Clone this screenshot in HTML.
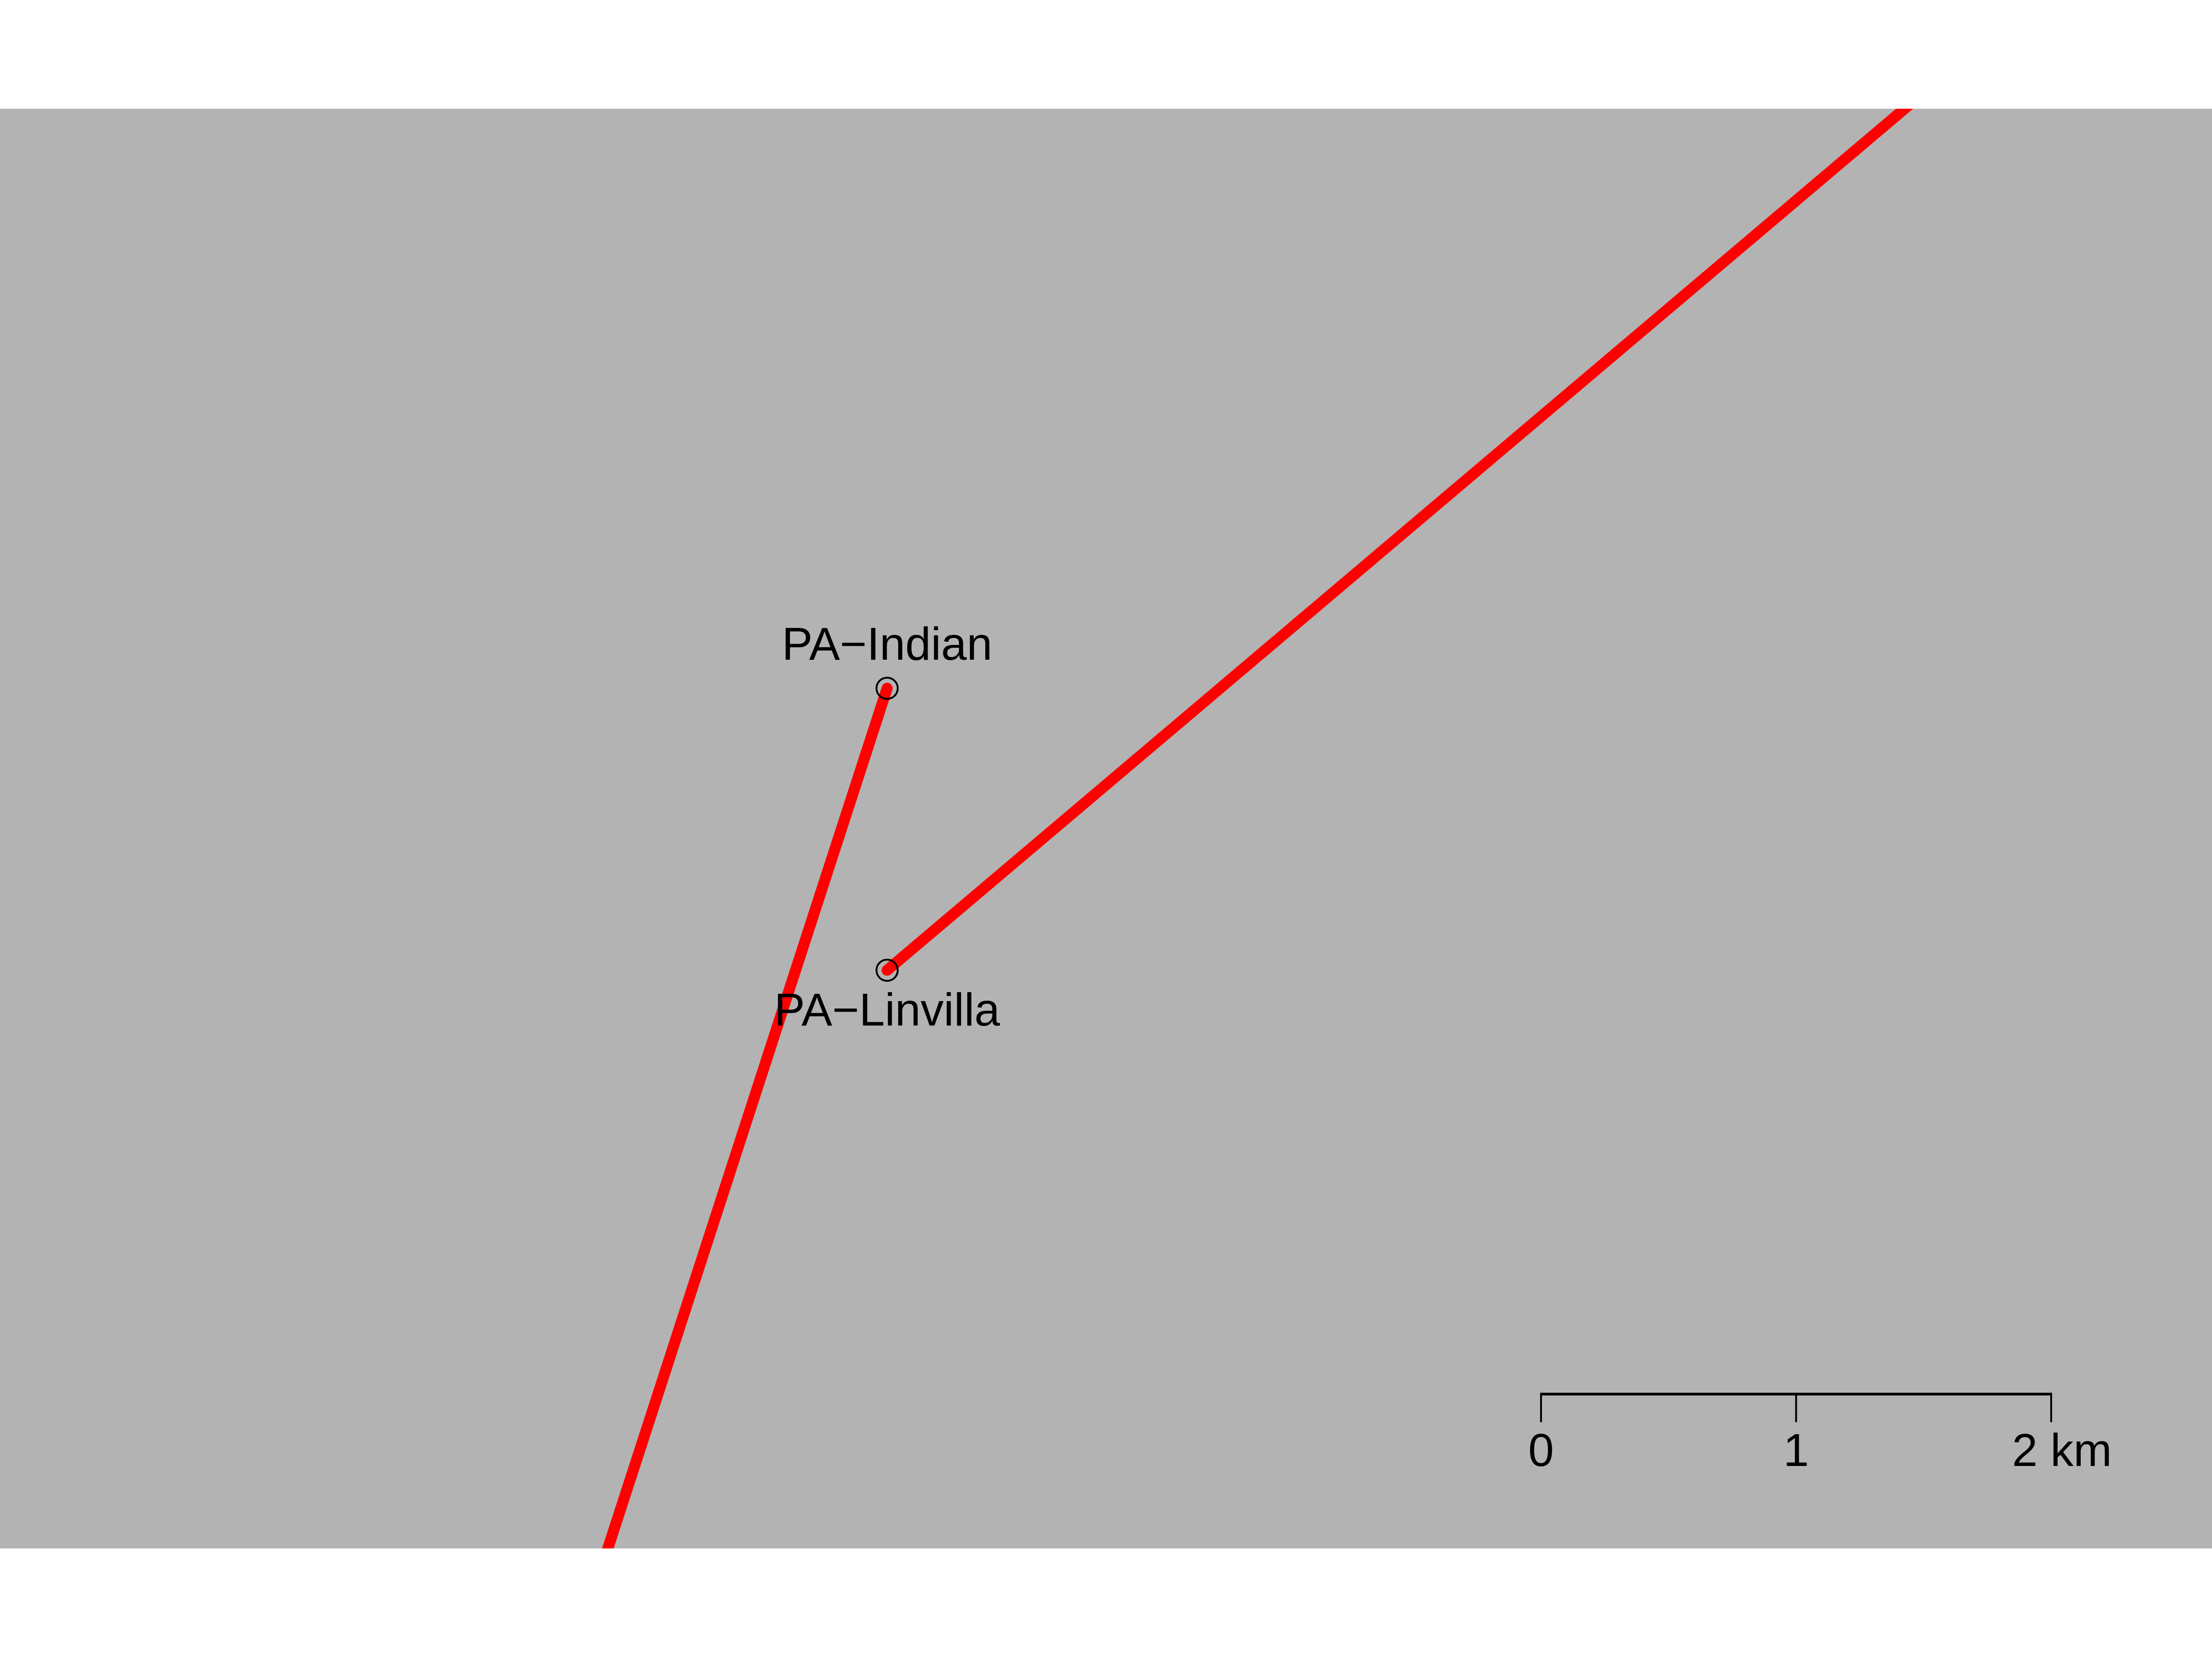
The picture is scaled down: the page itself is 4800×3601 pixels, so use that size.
<!DOCTYPE html>
<html><head><meta charset="utf-8"><style>html,body{margin:0;padding:0;background:#fff}svg{display:block}</style></head>
<body>
<svg id="map" width="4800" height="3601" xmlns="http://www.w3.org/2000/svg" font-family="Liberation Sans, sans-serif">
<defs><clipPath id="panelClip"><rect x="0" y="236" width="4800" height="3125"/></clipPath></defs>
<rect x="0" y="236" width="4800" height="3125" fill="#b3b3b3"/>
<g id="lines" clip-path="url(#panelClip)"></g>
<g id="pts"></g>
<g id="scalebar"></g>
</svg>
<script>
const siteNames = ["PA\u2212Indian", "PA\u2212Linvilla"];
const siteX = [1925, 1925];
const siteY = [1494, 2106];
const labelDy = [-62, 120];
const routeFrom = [[1925,1494],[1925,2106]];
const routeTo = [[1319,3361],[4133,236]];
const scaleKm = [0, 1, 2];
const scaleLabels = ["0", "1", "2 km"];

const NS = "http://www.w3.org/2000/svg";
function mk(t, a){const e=document.createElementNS(NS,t);for(const k in a)e.setAttribute(k,a[k]);return e;}
const lines = document.getElementById('lines');
routeFrom.forEach((f,i)=>{
  const t = routeTo[i];
  const dx = t[0]-f[0], dy = t[1]-f[1], len = Math.hypot(dx,dy);
  const ex = t[0] + dx/len*60, ey = t[1] + dy/len*60;
  const l = mk('line',{x1:f[0],y1:f[1],x2:ex,y2:ey,stroke:'#ff0000','stroke-width':24,'stroke-linecap':'round'});
  
  
  lines.appendChild(l);
});
const pts = document.getElementById('pts');
siteNames.forEach((n,i)=>{
  const c = mk('circle',{cx:siteX[i],cy:siteY[i],r:23,fill:'none',stroke:'#000','stroke-width':4});
  
  
  pts.appendChild(c);
  const t = mk('text',{x:siteX[i],y:siteY[i]+labelDy[i],'font-size':100,'text-anchor':'middle',fill:'#000'});
  t.textContent = n;
  
  
  pts.appendChild(t);
});
const sb = document.getElementById('scalebar');
const sx = km => 3344 + km*553.5;
const by = 3026;
const bar = mk('line',{x1:sx(0)-2,y1:by,x2:sx(2)+2,y2:by,stroke:'#000','stroke-width':6});


sb.appendChild(bar);
scaleKm.forEach((k,i)=>{
  const tk = mk('line',{x1:sx(k),y1:by,x2:sx(k),y2:3087,stroke:'#000','stroke-width':4});
  
  
  sb.appendChild(tk);
  const last = i===scaleKm.length-1;
  const t = mk('text',{x:last?sx(k)-85:sx(k),y:3182,'font-size':100,'text-anchor':last?'start':'middle',fill:'#000'});
  t.textContent = scaleLabels[i];
  
  
  sb.appendChild(t);
});
</script>
</body></html>
